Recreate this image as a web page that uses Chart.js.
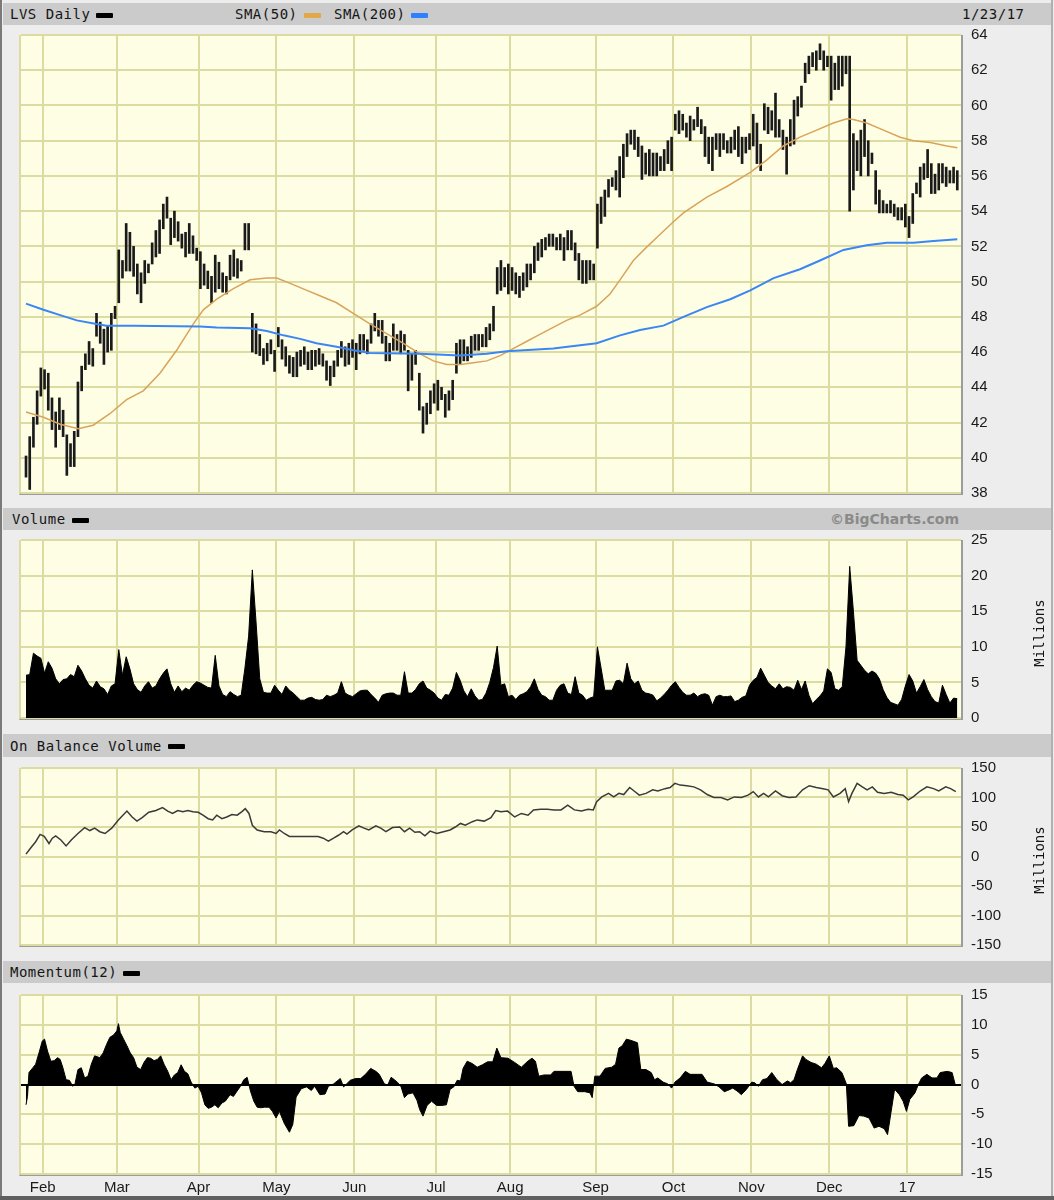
<!DOCTYPE html>
<html>
<head>
<meta charset="utf-8">
<title>LVS Daily</title>
<script src="https://cdn.jsdelivr.net/npm/chart.js@4.4.1/dist/chart.umd.min.js"></script>
<style>
  body { margin: 0; background: #ededed; }
  #page { position: relative; width: 1054px; height: 1200px; background: #ededed; overflow: hidden; }
  .edge { position: absolute; }
  .bar { position: absolute; left: 3px; width: 1048px; background: #cbcbcb;
         font-family: 'DejaVu Sans Mono', monospace; font-size: 14px; color: #151515; }
  .lbl { position: absolute; top: 50%; transform: translateY(-50%); white-space: nowrap; letter-spacing: 0.5px; }
  .key { display: inline-block; width: 17px; height: 5px; vertical-align: middle; margin-left: 6px; border-radius: 1px; }
  .copy { font-family: 'DejaVu Sans', sans-serif; font-weight: bold; font-size: 14px; color: #8a8a8a; letter-spacing: 0; }
  .plot { position: absolute; left: 19px; width: 940px; background: #fefee4;
          border-left: 2px solid #dcdca2; border-right: 2px solid #9c9c9c; border-bottom: 2px solid #9c9c9c; }
  canvas { position: absolute; left: 21px; }
  .mil { position: absolute; font-family: 'DejaVu Sans Mono', monospace; font-size: 14px; color: #151515;
         transform: translate(-50%, -50%) rotate(-90deg); white-space: nowrap; }
</style>
</head>
<body>
<div id="page">
  <div class="edge" style="left:0;top:0;width:2px;height:1200px;background:#7a7a7a"></div>
  <div class="edge" style="left:1051px;top:0;width:2px;height:1200px;background:#b0b0b0"></div>
  <div class="edge" style="left:0;top:1196px;width:1054px;height:4px;background:#606060"></div>

  <div class="bar" style="top:3px;height:22px">
    <span class="lbl" style="left:7px">LVS Daily<i class="key" style="background:#000"></i></span>
    <span class="lbl" style="left:232px">SMA(50)<i class="key" style="background:#e0a848"></i></span>
    <span class="lbl" style="left:331px">SMA(200)<i class="key" style="background:#2f80ff"></i></span>
    <span class="lbl" style="left:959px">1/23/17</span>
  </div>
  <div class="bar" style="top:508px;height:22px">
    <span class="lbl" style="left:9px">Volume<i class="key" style="background:#000"></i></span>
    <span class="lbl copy" style="right:92px">©BigCharts.com</span>
  </div>
  <div class="bar" style="top:734px;height:23px">
    <span class="lbl" style="left:7px">On Balance Volume<i class="key" style="background:#000"></i></span>
  </div>
  <div class="bar" style="top:961px;height:22px">
    <span class="lbl" style="left:7px">Momentum(12)<i class="key" style="background:#000"></i></span>
  </div>

  <div class="plot" style="top:35px;height:458px"></div>
  <div class="plot" style="top:540px;height:178px"></div>
  <div class="plot" style="top:768px;height:177px"></div>
  <div class="plot" style="top:995px;height:179px"></div>

  <canvas id="cPrice" width="1033" height="478" style="top:25px"></canvas>
  <canvas id="cVol" width="1033" height="198" style="top:530px"></canvas>
  <canvas id="cObv" width="1033" height="197" style="top:758px"></canvas>
  <canvas id="cMom" width="1033" height="213" style="top:985px"></canvas>

  <div class="mil" style="left:1039px;top:633px">Millions</div>
  <div class="mil" style="left:1039px;top:860px">Millions</div>
</div>

<script>
// trading days, 0 = 25 Jan 2016 ... 251 = 23 Jan 2017
const monthStart = [4.5, 24.5, 46.5, 67.5, 88.5, 110.5, 130.5, 153.5, 174.5, 195.5, 216.5, 237.5];
const monthLabels = ['Feb', 'Mar', 'Apr', 'May', 'Jun', 'Jul', 'Aug', 'Sep', 'Oct', 'Nov', 'Dec', '17'];

// daily high / low
const high = [
  40.1,41.2,42.3,43.8,45.1,45.0,44.8,43.4,42.6,43.4,
  42.7,41.3,40.8,41.5,44.3,45.2,45.9,46.6,46.2,48.2,
  47.7,47.3,47.5,48.2,48.6,51.8,51.2,53.3,52.8,52.0,
  51.0,50.5,51.2,51.0,52.2,52.9,53.5,54.4,54.8,53.6,
  54.0,53.4,52.7,52.8,53.3,52.6,51.9,51.7,51.0,50.6,
  50.3,51.5,51.1,50.5,50.3,51.5,51.8,51.3,51.2,53.3,
  53.3,48.2,47.6,47.0,46.2,46.5,46.7,46.1,47.4,46.7,
  46.3,45.8,45.7,46.0,46.1,46.3,46.0,46.1,46.1,46.2,
  45.9,45.5,45.2,45.5,46.1,46.6,46.3,46.5,46.7,46.5,
  47.0,47.0,46.7,47.6,48.2,47.8,47.8,46.9,46.5,47.6,
  47.0,47.2,47.0,46.1,45.9,46.1,44.8,42.9,43.1,43.8,
  44.2,44.4,44.0,43.6,43.8,44.4,46.5,46.7,46.7,46.3,
  46.9,47.0,47.0,47.0,47.4,47.6,48.6,50.8,51.2,50.8,
  51.0,50.8,50.5,50.3,50.5,51.0,51.0,52.0,52.2,52.4,
  52.5,52.7,52.7,52.5,52.7,52.5,52.9,52.9,52.2,51.6,
  51.2,51.2,51.2,51.0,54.4,54.8,55.2,55.8,55.9,56.3,
  57.1,57.8,58.4,58.6,58.6,58.2,57.7,57.3,57.5,57.3,
  57.3,57.1,57.5,58.0,58.2,59.5,59.7,59.5,59.0,59.4,
  59.2,59.9,59.2,58.8,58.2,58.2,58.4,58.4,58.4,58.0,
  58.2,58.6,58.8,58.2,58.2,58.4,59.5,59.0,57.8,60.1,
  59.9,59.7,60.7,59.2,58.6,58.2,59.2,60.3,60.5,61.1,
  62.4,62.8,63.0,63.1,63.5,63.1,62.8,62.8,62.4,62.8,
  62.8,62.8,62.8,58.4,58.0,58.6,59.2,58.0,57.3,56.3,
  55.2,54.6,54.4,54.6,54.4,54.2,54.2,54.4,53.7,55.0,
  55.6,56.5,56.7,57.5,56.7,56.1,56.7,56.7,56.5,56.3,
  56.5,56.3
];
const low = [
  38.9,38.2,40.6,41.9,43.5,43.9,42.7,41.6,40.6,41.6,
  41.2,39.0,39.5,39.5,41.2,43.8,45.0,45.3,45.2,46.9,
  46.5,45.3,46.0,46.1,47.9,48.8,50.2,50.6,50.6,50.3,
  49.3,48.8,49.9,50.5,51.0,51.4,51.6,53.0,53.6,52.1,
  52.5,52.3,51.9,51.4,51.6,51.6,51.2,49.6,49.8,49.6,
  48.8,49.4,49.6,49.4,49.3,50.1,50.3,50.2,50.6,51.8,
  51.8,46.0,45.9,45.8,45.3,45.5,45.9,44.9,46.3,45.6,
  45.2,44.8,44.6,44.6,45.2,45.3,45.0,45.0,45.2,45.3,
  45.2,44.4,44.1,44.6,45.2,45.7,45.2,45.3,45.7,45.0,
  45.9,46.1,45.9,46.5,47.2,46.9,46.5,45.5,45.5,46.1,
  46.1,45.9,46.1,43.8,44.4,45.3,42.7,41.4,41.9,42.5,
  43.1,42.7,43.3,42.3,42.7,43.3,44.8,45.3,45.5,45.5,
  45.7,46.1,46.1,46.3,46.3,46.7,47.2,49.3,49.5,49.7,
  49.3,49.5,49.3,49.1,49.5,49.7,50.1,50.5,51.2,51.4,
  51.8,52.0,52.0,51.8,51.8,51.2,51.8,51.8,51.2,50.1,
  49.9,49.9,50.1,50.1,51.9,53.3,53.7,54.8,55.4,55.2,
  54.8,55.9,57.1,57.8,57.5,57.1,55.8,56.1,56.0,56.0,
  56.0,56.3,56.3,56.7,56.3,58.6,58.4,58.6,58.2,58.0,
  58.6,58.8,58.4,57.1,56.7,56.3,57.5,57.1,57.5,57.3,
  57.3,57.5,57.1,56.7,57.3,57.5,57.7,56.7,56.3,58.6,
  58.4,58.6,58.2,58.2,57.5,56.1,57.7,57.8,59.4,59.9,
  61.3,61.8,62.2,62.0,62.6,62.0,62.2,60.3,60.9,60.9,
  61.1,61.8,54.0,55.2,56.3,56.0,57.1,56.0,56.7,54.4,
  53.9,53.9,53.9,53.9,53.7,53.5,53.5,53.1,52.5,53.3,
  55.0,54.8,55.8,55.9,55.0,55.0,55.2,55.6,55.4,55.6,
  55.6,55.2
];

// moving averages, read at sample days
const sma50Day = [
  0, 4.7, 9.2, 14.1, 18.1, 22.6, 27.1, 31.6, 36.1, 40.6,
  45.1, 47.8, 51.4, 55.9, 60.4, 64.9, 67.6, 71.2, 75.7, 79.2,
  83.7, 88.2, 92.7, 97.2, 101.7, 106.2, 109.8, 113.4, 117, 120.6,
  124.2, 127.8, 131.3, 134.9, 138.5, 142.1, 145.7, 149.3, 153.8, 157.4,
  160.1, 163.7, 167, 170, 174.5, 177.2, 183.5, 188.9, 195.2, 199.6,
  204.1, 208.6, 213.1, 217.6, 221.2, 223, 226.6, 231.1, 235.6, 239.2,
  243.7, 248.2, 251
];
const sma50Val = [
  42.6, 42.3, 41.9, 41.65, 41.85, 42.5, 43.3, 43.8, 44.8, 46.1,
  47.6, 48.4, 49.0, 49.6, 50.1, 50.2, 50.2, 49.9, 49.5, 49.2,
  48.8, 48.2, 47.6, 47.05, 46.5, 45.9, 45.5, 45.3, 45.3, 45.4,
  45.5, 45.8, 46.2, 46.6, 47.0, 47.4, 47.8, 48.1, 48.6, 49.3,
  50.1, 51.2, 51.9, 52.5, 53.4, 53.9, 54.8, 55.4, 56.2, 56.9,
  57.7, 58.2, 58.6, 59.0, 59.25, 59.2, 59.0, 58.6, 58.2, 58.0,
  57.9, 57.7, 57.6
];
const sma200Day = [
  0, 4.7, 9.2, 13.7, 19, 21.7, 28.9, 46.9, 51.4, 60.4,
  64.9, 69.4, 73.9, 78.3, 83.7, 88.2, 92.7, 106.2, 117, 124.2,
  129.6, 142.1, 153.8, 160.1, 165.5, 171.8, 177.2, 183.5, 189.8, 195.2,
  201.5, 208.6, 214, 220.3, 226.6, 232, 239.2, 244.6, 251
];
const sma200Val = [
  48.75, 48.4, 48.1, 47.8, 47.6, 47.5, 47.5, 47.45, 47.4, 47.35,
  47.2, 46.95, 46.75, 46.5, 46.3, 46.1, 45.95, 45.9, 45.8, 45.9,
  46.05, 46.2, 46.5, 46.95, 47.25, 47.5, 48.0, 48.55, 49.0, 49.5,
  50.2, 50.7, 51.2, 51.8, 52.07, 52.2, 52.2, 52.3, 52.4
];

// daily volume, millions
const volume = [
  6.0,6.1,9.1,8.7,8.4,6.3,7.9,7.0,5.5,4.8,
  5.4,5.5,6.1,5.8,7.4,6.6,5.5,4.6,4.2,5.2,
  4.4,4.1,3.3,4.5,4.8,9.6,6.0,8.6,6.9,4.8,
  4.0,3.6,4.5,5.1,4.2,4.5,5.5,6.3,6.9,4.8,
  3.6,4.5,3.7,4.2,3.9,4.6,5.1,4.9,4.6,4.3,
  4.2,8.8,4.5,3.3,3.0,3.7,3.3,3.0,3.2,7.0,
  11.5,20.8,13.5,5.5,3.6,3.5,3.5,4.6,3.9,3.3,
  4.5,3.9,3.5,3.0,2.5,2.5,2.8,2.9,2.6,2.5,
  2.6,3.2,3.0,3.2,3.5,5.1,3.5,3.2,3.0,3.4,
  3.8,3.9,3.9,3.3,2.8,2.2,3.2,3.4,3.5,3.5,
  3.2,3.2,6.5,3.5,3.5,4.0,4.8,5.2,4.2,3.9,
  3.5,2.8,2.5,3.3,3.2,4.2,6.4,5.3,3.8,3.0,
  4.1,3.1,2.5,2.6,3.5,5.0,7.1,10.1,4.6,4.8,
  3.0,3.2,2.6,3.2,3.4,3.7,4.4,5.5,4.0,3.2,
  3.0,2.5,2.5,3.9,4.6,4.8,3.5,3.3,5.8,3.5,
  3.2,2.5,2.8,3.0,10.0,7.0,3.9,3.9,3.9,5.2,
  5.3,4.8,7.7,5.5,4.8,5.2,3.9,3.5,3.4,3.2,
  2.4,2.8,3.3,3.9,4.6,5.1,4.3,3.6,3.2,3.2,
  3.5,3.0,3.3,3.4,3.2,1.8,3.0,3.2,3.0,3.0,
  3.1,2.3,2.5,2.9,3.1,4.6,5.3,5.7,7.0,6.0,
  5.0,4.5,4.1,4.8,4.1,4.4,4.3,3.9,5.3,4.0,
  5.2,3.2,2.0,2.6,3.1,3.8,6.9,6.4,4.1,3.9,
  4.4,10.0,21.3,15.0,8.1,7.4,6.7,6.2,6.6,6.3,
  5.5,4.0,2.9,2.2,2.0,1.8,2.6,4.5,6.1,5.2,
  3.5,4.4,5.4,4.0,3.0,2.3,2.1,4.6,3.3,2.1,
  2.8,2.7
];

// on balance volume, millions, read at sample days
const obvDay = [
  0,1.2,2.6,3.8,4.9,6.2,7.1,8.0,9.4,10.8,
  12.2,14.0,15.8,17.2,18.5,19.9,21.3,23.1,24.9,27.2,
  28.6,29.9,31.3,33.1,35.0,36.8,38.2,39.5,40.9,42.3,
  43.6,45.0,46.4,47.7,49.1,50.3,51.4,52.8,54.1,55.5,
  56.9,58.2,59.1,60.1,61.0,62.3,64.2,66.0,67.4,68.3,
  69.6,71.0,73.3,75.1,76.9,78.7,80.1,81.5,82.9,84.2,
  85.6,86.5,87.9,89.7,91.1,92.4,94.3,95.6,97.0,98.8,
  100.7,102.0,103.4,104.8,106.1,107.5,108.9,110.7,112.5,114.3,
  115.7,117.1,118.4,120.3,121.6,123.5,125.3,126.6,128.0,129.8,
  131.7,133.5,135.3,136.8,138.7,140.5,142.3,144.2,146.0,147.8,
  149.7,151.5,152.9,153.8,155.2,157.0,158.4,159.8,161.1,162.7,
  163.9,165.3,167.1,168.9,170.3,172.2,173.6,174.9,176.3,178.1,
  180.0,181.8,183.6,185.4,187.3,189.1,190.9,192.8,194.6,196.0,
  197.4,198.8,200.1,202.0,203.8,205.6,207.5,209.3,211.1,213.0,
  214.8,216.2,217.6,219.4,220.8,221.7,222.6,224.0,225.4,226.7,
  228.1,229.5,231.3,233.2,235.0,236.4,237.8,239.1,241.0,242.8,
  244.6,246.0,247.9,249.2,250.6
];
const obvVal = [
  4,14,25,37.5,34,22,31,35,28,18,
  28,39,49,44,48,42,39,48,62,77,
  67,60,66,75,78,83,77,73,78,76,
  78,76,75,70,64,62,70,64,67,71,
  70,76,81,73,53,45,42,42,39,45,
  39,34,34,34,34,34,31,26,31,36,
  42,38,45,52,48,45,52,48,42,49,
  50,42,48,41,42,35,43,39,42,45,
  50,56,53,59,62,60,66,78,76,77,
  67,73,70,79,80,80,79,79,87,79,
  77,80,79,93,101,107,101,107,105,117,
  111,104,107,113,111,115,117,124,121,120,
  118,113,105,100,100,96,101,100,104,110,
  101,107,101,111,103,100,101,113,120,117,
  115,113,101,107,115,93,107,124,118,113,
  118,109,107,109,105,104,96,101,111,118,
  115,111,118,115,110
];

// momentum(12), read at sample days
const momDay = [
  0,0.4,0.8,1.7,2.6,3.5,4.4,5.0,5.8,6.7,
  7.6,8.5,9.2,9.9,10.8,11.7,12.6,13.2,14.0,14.9,
  15.8,16.7,17.6,18.5,19.9,20.8,21.7,22.6,23.6,24.5,
  24.9,25.4,26.3,27.2,28.1,29.0,29.9,30.9,31.8,32.7,
  33.6,34.5,35.4,36.3,37.2,38.2,39.1,40.0,40.9,41.8,
  42.7,43.6,44.5,45.5,46.4,47.3,48.2,49.1,50.0,50.9,
  51.8,52.8,53.7,55.0,55.9,56.9,57.8,58.7,59.6,60.5,
  61.4,62.3,63.3,64.2,65.5,66.4,67.4,68.3,69.6,71.0,
  71.9,72.8,74.2,75.6,76.9,77.8,79.2,80.6,81.5,82.9,
  84.7,85.6,87.4,88.8,90.2,91.5,92.9,94.3,95.2,96.6,
  97.5,98.4,99.3,100.2,101.1,102.0,102.9,104.3,105.4,106.1,
  107.0,108.1,109.3,110.7,112.1,113.3,114.3,115.3,116.2,117.1,
  117.8,118.9,120.3,121.6,123.0,124.4,125.8,126.9,128.0,129.9,
  131.7,133.5,135.4,136.4,137.3,138.2,139.6,141.4,142.3,144.2,
  146.9,147.7,148.7,150.6,152.0,152.6,153.3,154.7,156.1,157.9,
  158.9,159.8,160.7,161.8,163.0,164.8,165.7,167.1,168.5,169.4,
  170.3,171.7,173.0,174.0,174.9,176.3,177.7,179.0,180.9,182.2,
  183.6,185.5,186.8,188.2,189.1,190.5,191.9,192.8,194.2,195.6,
  196.4,197.4,198.5,199.7,201.0,202.4,203.8,205.2,206.1,207.0,
  207.9,209.3,210.2,211.6,213.0,214.4,215.3,216.5,217.6,218.5,
  219.9,221.1,221.7,223.1,224.5,225.8,227.2,228.6,229.9,231.3,
  232.2,233.1,234.1,235.4,236.4,237.3,238.2,239.6,240.5,241.4,
  242.8,244.2,245.5,246.4,248.3,249.6,250.4
];
const momVal = [
  -3.4,-2.0,2.0,2.7,3.4,5.3,7.3,7.6,5.6,3.9,
  4.0,4.5,4.2,2.9,0.8,0.7,-0.3,0.1,2.5,2.8,
  1.1,1.4,3.4,4.8,4.5,5.3,6.7,7.9,8.3,9.0,
  10.2,8.7,7.6,6.5,5.3,4.5,2.9,2.5,3.7,4.5,
  4.4,4.0,4.2,4.8,3.4,2.2,0.8,1.6,2.0,3.3,
  2.2,1.8,0.4,-0.6,-0.3,-1.4,-3.4,-4.0,-3.8,-3.4,
  -3.9,-3.1,-2.8,-1.7,-2.0,-1.1,-0.3,0.8,1.2,-1.1,
  -2.8,-3.8,-3.9,-3.8,-3.8,-4.5,-5.6,-4.5,-6.5,-8.0,
  -6.7,-2.1,-0.7,-0.4,-1.0,-0.3,-1.7,-1.6,-0.3,0.1,
  1.0,-0.4,0.7,1.0,1.0,1.7,2.7,2.2,1.7,0.1,
  -0.1,1.2,0.8,0.3,-0.4,-2.2,-1.6,-1.4,-2.7,-4.2,
  -5.3,-3.5,-2.8,-3.5,-3.5,-3.4,-0.8,-0.4,0.7,0.6,
  2.7,3.9,3.5,2.9,3.3,3.8,3.8,6.1,4.5,4.4,
  3.7,2.9,4.0,4.4,3.9,1.4,1.6,1.6,2.2,2.2,
  2.2,-0.3,-1.2,-1.2,-1.4,-2.2,1.4,1.4,2.7,2.9,
  3.4,6.1,6.5,7.6,7.4,7.0,2.5,2.5,2.0,0.8,
  1.1,0.4,0.1,-0.6,0.4,1.1,2.2,1.7,1.7,1.7,
  0.4,0.1,-0.4,-1.2,-1.0,-0.6,-1.2,-1.7,-0.8,0.4,
  0.3,-0.3,0.8,1.0,2.0,0.8,0.0,0.6,0.3,0.8,
  2.5,4.8,4.2,3.7,3.4,2.8,3.5,4.8,2.7,2.8,
  2.0,0.1,-7.0,-6.9,-5.2,-5.3,-5.6,-7.3,-7.0,-7.4,
  -8.4,-4.8,-0.8,-1.7,-2.8,-4.5,-2.5,-1.4,0.0,1.1,
  1.7,1.1,1.1,2.0,2.2,2.0,0.1
];

const GRID = '#dcdca2';
const TICK_FONT = { family: 'Liberation Sans', size: 15 };
const TICK_COLOR = '#1a1a1a';

const pts = (xs, ys) => xs.map((x, i) => ({ x: x, y: ys[i] }));
const daily = ys => ys.map((y, i) => ({ x: i, y: y }));

function xAxis(showLabels) {
  return {
    type: 'linear', min: -1.35, max: 252, offset: false,
    afterBuildTicks: s => { s.ticks = monthStart.map(v => ({ value: v })); },
    grid: { color: GRID, lineWidth: 2, drawTicks: false, offset: false },
    border: { display: false },
    ticks: {
      display: showLabels, autoSkip: false, maxRotation: 0, padding: 5,
      font: TICK_FONT, color: TICK_COLOR,
      callback: (v, i) => monthLabels[i]
    },
    afterFit: s => {
      s.height = showLabels ? 24 : 0;
      s.paddingLeft = 0; s.paddingRight = 0;
    }
  };
}

function yAxis(min, max, step, zeroBlack) {
  return {
    position: 'right', min: min, max: max,
    ticks: { stepSize: step, padding: 10, font: TICK_FONT, color: TICK_COLOR },
    grid: {
      color: c => (zeroBlack && c.tick && c.tick.value === 0) ? '#000' : GRID,
      lineWidth: 2, drawTicks: false
    },
    border: { display: false },
    afterFit: s => {
      s.width = 93;
      // keep the plot area fixed: labels may overhang into the layout padding
      s.paddingTop = 0; s.paddingBottom = 0;
    }
  };
}

function opts(x, y, padBottom) {
  return {
    responsive: false,
    animation: false,
    layout: { padding: { top: 10, bottom: padBottom, left: 0, right: 0 } },
    plugins: { legend: { display: false }, tooltip: { enabled: false } },
    elements: { point: { radius: 0 }, line: { tension: 0 } },
    scales: { x: x, y: y }
  };
}

// price panel: high-low bars plus the two moving averages
new Chart(document.getElementById('cPrice'), {
  type: 'bar',
  data: {
    datasets: [
      {
        type: 'line', label: 'SMA(200)', data: pts(sma200Day, sma200Val),
        borderColor: '#3a86f5', borderWidth: 2, order: 0
      },
      {
        type: 'line', label: 'SMA(50)', data: pts(sma50Day, sma50Val),
        borderColor: '#d9a35a', borderWidth: 1.5, order: 0
      },
      {
        type: 'bar', label: 'LVS', data: high.map((h, i) => ({ x: i, y: [low[i], h] })),
        backgroundColor: '#1a1a1a', barThickness: 2, grouped: false, borderWidth: 0, order: 1
      }
    ]
  },
  options: opts(xAxis(false), yAxis(38, 64, 2, false), 10)
});

new Chart(document.getElementById('cVol'), {
  type: 'line',
  data: {
    datasets: [{
      label: 'Volume', data: daily(volume), fill: 'origin',
      borderColor: '#000', backgroundColor: '#000', borderWidth: 1
    }]
  },
  options: opts(xAxis(false), yAxis(0, 25, 5, false), 10)
});

new Chart(document.getElementById('cObv'), {
  type: 'line',
  data: {
    datasets: [{
      label: 'On Balance Volume', data: pts(obvDay, obvVal),
      borderColor: '#3a3a3a', borderWidth: 1.5, fill: false
    }]
  },
  options: opts(xAxis(false), yAxis(-150, 150, 50, false), 10)
});

new Chart(document.getElementById('cMom'), {
  type: 'line',
  data: {
    datasets: [{
      label: 'Momentum(12)', data: pts(momDay, momVal), fill: 'origin',
      borderColor: '#000', backgroundColor: '#000', borderWidth: 1
    }]
  },
  options: opts(xAxis(true), yAxis(-15, 15, 5, true), 0)
});
</script>
</body>
</html>
